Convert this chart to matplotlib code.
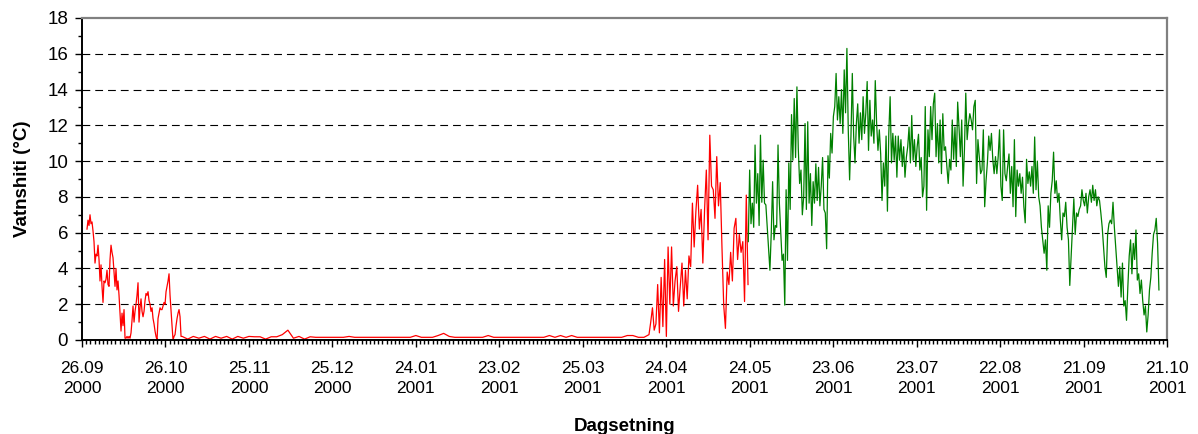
import datetime as dt
import numpy as np
import matplotlib
matplotlib.use("Agg")
import matplotlib.pyplot as plt
from matplotlib.ticker import FixedLocator, MultipleLocator

plt.rcParams['font.family'] = ['Liberation Sans', 'DejaVu Sans']

start_date = dt.date(2000, 9, 26)
tick_days = np.arange(0, 391, 30)

# red series, three pieces: autumn, winter baseline, spring (days from 26.09.2000)
red_autumn_days = (1.8, 35.6)
red_autumn = [6.2, 6.7, 6.4, 7.0, 6.5, 6.6, 6.1, 5.5, 4.3, 4.8, 4.7, 5.3, 4.5, 3.3, 4.2, 3.0,
              2.1, 3.3, 3.2, 3.4, 3.9, 3.1, 3.0, 4.5, 5.3, 4.9, 4.6, 3.8, 3.0, 4.0, 2.8, 3.3,
              2.5, 1.5, 0.5, 1.5, 0.8, 1.7, 0.1, 0.1, 0.2, 0.1, 0.2, 0.1, 0.4, 1.1, 1.9, 1.0,
              1.6, 2.0, 2.5, 3.2, 1.0, 1.8, 2.3, 1.6, 1.3, 1.6, 2.2, 2.6, 2.5, 2.7, 2.2, 2.0,
              1.6, 1.8, 1.2, 0.9, 0.5, 0.2, 0.0, 1.2, 1.5, 1.8, 1.7, 1.7, 1.9, 2.1, 2.0, 2.7,
              3.0, 3.3, 3.7, 2.5, 1.6, 0.8, 0.0, 0.2, 0.3, 0.8, 1.2, 1.5, 1.7, 1.3, 0.2]

red_winter_days = (36, 202)
red_winter = [0.2, 0.05, 0.2, 0.1, 0.2, 0.05, 0.2, 0.1, 0.2, 0.05, 0.2, 0.1, 0.2, 0.18,
              0.18, 0.05, 0.18, 0.18, 0.3, 0.55, 0.1, 0.2, 0.05, 0.18, 0.15,
              0.15, 0.15, 0.15, 0.15, 0.15, 0.2, 0.15, 0.15, 0.15, 0.15, 0.15, 0.15, 0.15,
              0.15, 0.15, 0.15, 0.15, 0.25, 0.15, 0.15, 0.15, 0.25, 0.37, 0.2, 0.15, 0.15,
              0.15, 0.15, 0.15, 0.15, 0.25, 0.15, 0.15, 0.15, 0.15, 0.15, 0.15, 0.15, 0.15,
              0.15, 0.15, 0.25, 0.15, 0.25, 0.15, 0.25, 0.15, 0.15, 0.15, 0.15, 0.15, 0.15,
              0.15, 0.15, 0.15, 0.25, 0.25, 0.15, 0.15]

red_spring_days = (203.8, 239.4)
red_spring = [0.3, 1.0, 1.8, 0.55, 0.9, 3.1, 0.4, 3.5, 0.75, 4.5, 0.2, 5.2, 2.0, 5.2, 1.9,
              3.3, 4.1, 1.6, 3.0, 4.3, 1.9, 3.9, 2.3, 4.7, 4.1, 7.65, 5.2, 7.2, 8.65, 6.2,
              7.3, 4.3, 7.3, 9.5, 5.6, 11.45, 8.6, 8.4, 6.8, 10.25, 7.5, 8.8, 5.2, 1.95,
              0.65, 3.8, 3.1, 4.9, 3.3, 6.25, 6.8, 4.5, 5.9, 4.9, 5.5, 2.15, 8.1, 3.1]

green_days = (239.5, 387.1)
green = [5.5, 9.5, 6.5, 7.65, 6.3, 10.9, 7.65, 9.3, 6.4, 11.45, 7.7, 10.05, 7.65, 7.55, 6.3,
         4.95, 3.9, 6.0, 8.85, 5.6, 6.4, 6.3, 10.9, 7.65, 6.0, 4.45, 4.8, 1.95, 8.4, 4.45,
         9.9, 7.3, 12.6, 10.05, 13.5, 10.2, 14.15, 10.7, 8.75, 9.5, 7.0, 8.0, 12.1, 7.3,
         12.2, 7.65, 9.3, 6.4, 8.85, 7.65, 9.85, 7.8, 9.65, 7.5, 8.6, 10.2, 7.3, 7.1, 5.1,
         10.3, 9.05, 11.55, 10.45, 12.5, 13.05, 14.9,
         12.3, 13.6, 12.1, 14.0, 11.55, 15.1, 12.7, 16.3, 11.75, 8.95, 11.4, 14.9, 11.4,
         9.9, 12.1, 13.2, 11.0, 12.7, 11.2, 13.6, 11.55, 12.7, 14.45, 10.6, 13.4, 11.4,
         12.3, 11.0, 14.5, 12.1, 10.6, 11.75, 10.4, 7.8, 9.9, 8.6, 11.4, 7.2, 11.55, 13.6,
         9.9, 11.55, 10.05, 11.4, 9.1, 11.4, 10.05, 11.2, 9.7, 10.8, 9.1, 10.2, 10.8, 11.9,
         9.9, 12.55, 10.05, 11.2, 9.7, 10.8, 11.5, 9.5, 10.2, 8.0, 8.6,
         13.05, 7.25, 11.75, 10.25, 13.05, 11.2, 13.2, 13.8, 10.25, 12.1, 9.9, 12.3, 9.3,
         12.65, 10.6, 10.8, 9.7, 8.75, 10.1, 9.5, 12.3, 10.1, 11.9, 9.7, 13.3, 11.9, 10.25,
         12.3, 8.6, 10.6, 13.8, 11.2, 12.1, 12.65, 12.3, 11.75, 13.05, 13.4, 8.75, 11.2,
         10.25, 9.3, 9.5, 11.75, 7.45, 8.9, 9.9, 11.4, 10.6, 11.55, 10.1, 9.3, 10.25, 9.3,
         10.25, 11.75, 8.6, 7.8, 11.75, 9.3, 8.9, 9.7, 10.4, 8.2, 9.7, 7.45, 11.2, 6.9, 9.5,
         8.6, 9.3, 8.2, 9.1, 7.45, 6.55, 10.1,
         8.75, 9.4, 8.6, 9.7, 8.2, 11.35, 8.4, 10.0, 8.0, 7.5, 6.3, 5.6, 4.85, 5.6, 3.9, 7.5,
         6.3, 8.2, 8.9, 10.5, 8.2, 8.9, 7.7, 8.2, 6.7, 5.6, 7.1, 6.9, 7.7, 6.3, 5.6, 3.05,
         4.7, 6.3, 7.9, 5.9, 7.1, 6.9, 7.3, 7.5, 8.4, 7.8, 7.5, 8.2, 7.1, 8.0, 8.4, 7.7,
         8.65, 7.8, 8.4, 7.5, 8.0, 7.8, 7.1, 6.3, 5.2, 4.1, 3.5, 5.9, 6.5, 6.7, 6.5, 7.7,
         6.3, 5.2, 4.1, 3.0, 4.1, 2.4, 4.3, 1.9, 2.2, 1.1, 3.0, 4.7, 5.6, 3.7, 5.4, 4.5,
         6.15, 3.35, 3.7, 2.6, 3.35, 2.2, 1.4, 1.9, 0.45, 1.4, 2.8, 3.5, 4.85, 5.9, 6.15,
         6.8, 5.4, 2.8]


def spread(span, vals):
    return np.linspace(span[0], span[1], len(vals))


red_x = np.concatenate([spread(red_autumn_days, red_autumn),
                        spread(red_winter_days, red_winter),
                        spread(red_spring_days, red_spring)])
red_y = np.array(red_autumn + red_winter + red_spring)
green_x = spread(green_days, green)

fig = plt.figure(figsize=(11.98, 4.34), dpi=100)
ax = fig.add_axes([82 / 1198, 1 - 340 / 434, 1085 / 1198, 322 / 434])

ax.plot(red_x, red_y, color='#ff0000', lw=0.9)
ax.plot(green_x, green, color='#008000', lw=0.9)

ax.set_xlim(0, 390)
ax.set_ylim(0, 18)

for v in range(2, 18, 2):
    ax.axhline(v, color='black', lw=0.8, dashes=(7, 4.5), zorder=0)

ax.xaxis.set_major_locator(FixedLocator(tick_days))
ax.xaxis.set_minor_locator(MultipleLocator(1.5))
labels = [(start_date + dt.timedelta(days=int(d))).strftime('%d.%m\n%Y') for d in tick_days]
ax.set_xticklabels(labels, fontsize=12.5, linespacing=1.45)
ax.yaxis.set_major_locator(MultipleLocator(2))
ax.yaxis.set_minor_locator(MultipleLocator(1))
ax.tick_params(axis='y', labelsize=13.5, pad=5)
ax.tick_params(axis='x', pad=10)
ax.tick_params(which='major', length=5, width=1, direction='out')
ax.tick_params(which='minor', length=3, width=1, direction='out')

for s in ['left', 'bottom']:
    ax.spines[s].set_color('black')
    ax.spines[s].set_linewidth(1.4)
for s in ['top', 'right']:
    ax.spines[s].set_color('#808080')
    ax.spines[s].set_linewidth(1.6)

ax.set_ylabel('Vatnshiti (°C)', fontsize=13.5, fontweight='bold', labelpad=12)
ax.set_xlabel('Dagsetning', fontsize=13.5, fontweight='bold', labelpad=16)

fig.savefig('out.png', dpi=100)
